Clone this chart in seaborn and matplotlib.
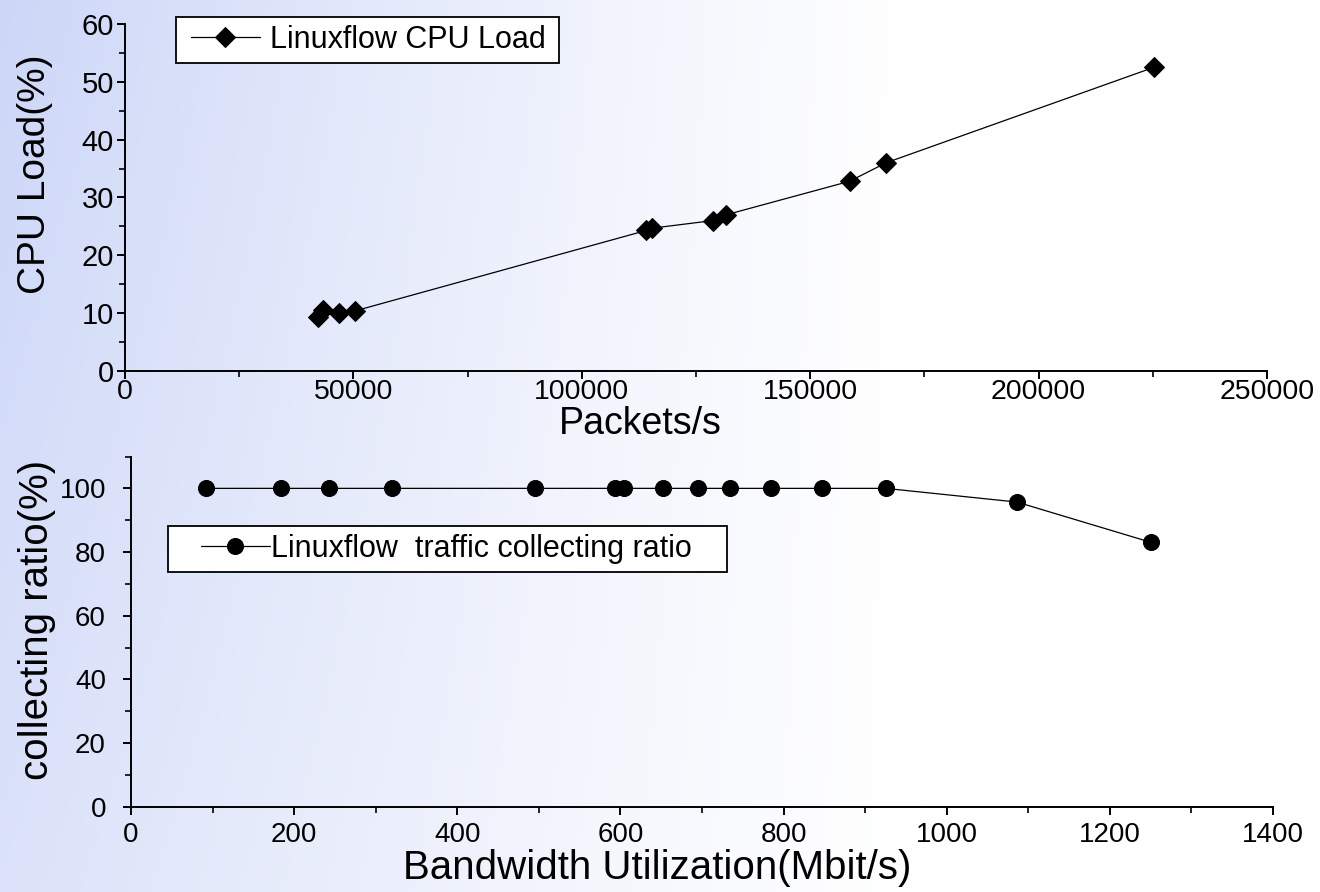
import numpy as np
import pandas as pd
import matplotlib
matplotlib.use("Agg")
import matplotlib.pyplot as plt
import seaborn as sns
from matplotlib.patches import Rectangle
from matplotlib.ticker import MultipleLocator

# CPU load vs packet rate (top panel)
packets = [42300, 43400, 46750, 50400, 114100, 115400, 128650, 131550, 158600, 166600, 225200]
cpu_load = [9.4, 10.5, 10.0, 10.4, 24.3, 24.7, 26.0, 27.0, 32.8, 36.0, 52.5]

# collecting ratio vs bandwidth (bottom panel)
bandwidth = [92, 184, 243, 320, 495, 593, 605, 652, 695, 734, 785, 847, 925, 1086, 1251]
ratio = [100, 100, 100, 100, 100, 100, 100, 100, 100, 100, 100, 100, 100, 95.7, 83.0]

cpu_df = pd.DataFrame({"packets": packets, "cpu": cpu_load})
ratio_df = pd.DataFrame({"bw": bandwidth, "ratio": ratio})

sns.set_style("ticks")
plt.rcParams["font.family"] = ["Liberation Sans", "DejaVu Sans"]
plt.rcParams["text.color"] = "black"
plt.rcParams["axes.labelcolor"] = "black"

W, H = 1320, 892
fig = plt.figure(figsize=(13.2, 8.92), dpi=100)

# light blue slide-like background
bg = fig.add_axes([0, 0, 1, 1], zorder=-10)
gx = np.linspace(0, 1, 400)
gy = np.linspace(0, 1, 300)
GX, GY = np.meshgrid(gx, gy)
t = np.clip(1 - GX / 0.7, 0, 1) ** 1.2 * (0.7 + 0.3 * GY)
c0 = np.array([1.0, 1.0, 1.0])
c1 = np.array([0.80, 0.84, 0.97])
img = c0[None, None, :] * (1 - t[..., None]) + c1[None, None, :] * t[..., None]
bg.imshow(img, aspect="auto", extent=[0, 1, 0, 1], origin="lower")
bg.axis("off")

ax1 = fig.add_axes([0.0947, 0.5841, 0.8652, 0.389])
ax2 = fig.add_axes([0.0992, 0.0956, 0.8652, 0.3926])
for ax in (ax1, ax2):
    ax.set_facecolor("none")

sns.lineplot(data=cpu_df, x="packets", y="cpu", ax=ax1, color="black", lw=0.9,
             marker="D", markersize=10, markeredgecolor="black",
             sort=False, estimator=None, label="Linuxflow CPU Load")
sns.lineplot(data=ratio_df, x="bw", y="ratio", ax=ax2, color="black", lw=0.9,
             marker="o", markersize=11.5, markeredgecolor="black",
             sort=False, estimator=None, label="Linuxflow  traffic collecting ratio")

ax1.set_xlim(0, 250000)
ax1.set_ylim(0, 60)
ax1.xaxis.set_major_locator(MultipleLocator(50000))
ax1.xaxis.set_minor_locator(MultipleLocator(25000))
ax1.yaxis.set_major_locator(MultipleLocator(10))
ax1.yaxis.set_minor_locator(MultipleLocator(5))

ax2.set_xlim(0, 1400)
ax2.set_ylim(0, 110)
ax2.xaxis.set_major_locator(MultipleLocator(200))
ax2.xaxis.set_minor_locator(MultipleLocator(100))
ax2.set_yticks([0, 20, 40, 60, 80, 100])
ax2.yaxis.set_minor_locator(MultipleLocator(10))

for ax in (ax1, ax2):
    sns.despine(ax=ax)
    for s in ("left", "bottom"):
        ax.spines[s].set_linewidth(1.4)
        ax.spines[s].set_color("black")
    ax.tick_params(which="major", direction="out", length=6, width=1.4,
                   colors="black")
    ax.tick_params(which="minor", direction="out", length=4, width=1.2,
                   colors="black")

ax1.tick_params(axis="x", which="major", labelsize=20.5, pad=0)
ax1.tick_params(axis="y", which="major", labelsize=21, pad=2)
ax2.tick_params(axis="x", which="major", labelsize=20, pad=5)
ax2.tick_params(axis="y", which="major", labelsize=20, pad=12)

ax1.set_xlabel("Packets/s", fontsize=27)
ax1.set_ylabel("CPU Load(%)", fontsize=28)
ax2.set_xlabel("Bandwidth Utilization(Mbit/s)", fontsize=29)
ax2.set_ylabel("collecting ratio(%)", fontsize=29)

ax1.xaxis.set_label_coords(0.451, -0.153)
ax1.xaxis.label.set_va("center")
ax1.yaxis.set_label_coords(-0.079, 0.568)
ax1.yaxis.label.set_va("center")
ax2.xaxis.set_label_coords(0.461, -0.175)
ax2.xaxis.label.set_va("center")
ax2.yaxis.set_label_coords(-0.082, 0.533)
ax2.yaxis.label.set_va("center")

# legend boxes drawn as plain rectangles, entries placed inside them
leg_kw = dict(loc="center left", bbox_transform=fig.transFigure, frameon=False,
              fontsize=22, handlelength=2.25, borderaxespad=0, borderpad=0)
boxes = {ax1: (176, 17, 559, 63), ax2: (168, 526, 727, 572)}
ax1.legend(bbox_to_anchor=(191 / W, 1 - 40 / H), handletextpad=0.33, **leg_kw)
ax2.legend(bbox_to_anchor=(201 / W, 1 - 549 / H), handletextpad=0.05, **leg_kw)
for ax, (x0, y0, x1, y1) in boxes.items():
    ax.add_patch(Rectangle((x0 / W, 1 - y1 / H), (x1 - x0) / W, (y1 - y0) / H,
                           transform=fig.transFigure, facecolor="white",
                           edgecolor="black", linewidth=1.3, zorder=4,
                           clip_on=False))
    ax.get_legend().set_zorder(10)

fig.savefig("out.png", dpi=100)
